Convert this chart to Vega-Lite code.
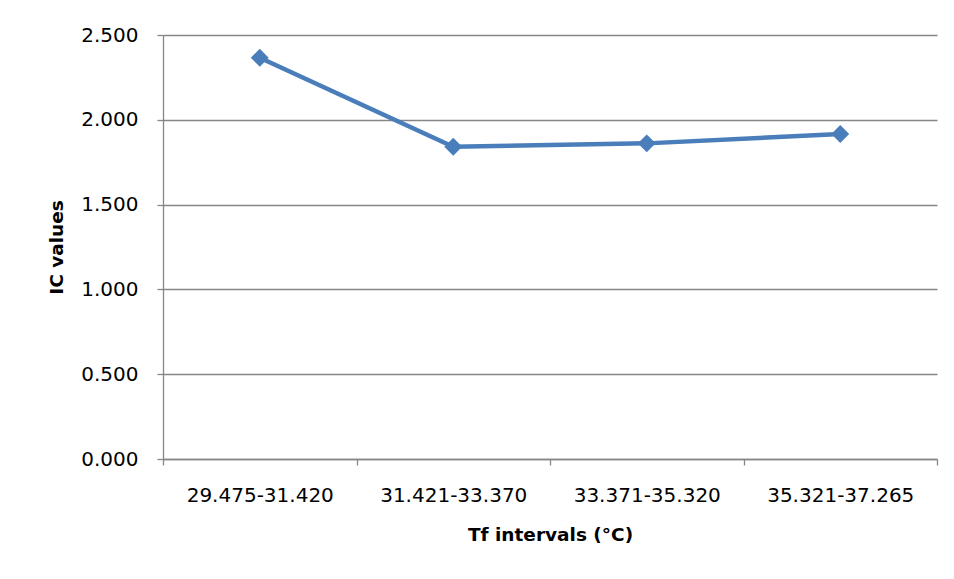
{
  "$schema": "https://vega.github.io/schema/vega-lite/v6.json",
  "width": 774,
  "height": 424,
  "autosize": {"type": "none"},
  "padding": {"left": 163, "top": 35, "right": 17, "bottom": 120},
  "background": "white",
  "config": {
    "view": {"stroke": null},
    "font": "DejaVu Sans",
    "axis": {
      "labelFont": "DejaVu Sans",
      "titleFont": "DejaVu Sans",
      "labelColor": "#000000",
      "titleColor": "#000000",
      "domainColor": "#868686",
      "tickColor": "#868686",
      "gridColor": "#868686",
      "domainWidth": 1.3,
      "tickWidth": 1.3,
      "gridWidth": 1.3,
      "labelFontSize": 20,
      "titleFontSize": 18.5,
      "titleFontWeight": "bold"
    }
  },
  "data": {
    "values": [
      {"interval": "29.475-31.420", "ic": 2.366},
      {"interval": "31.421-33.370", "ic": 1.841},
      {"interval": "33.371-35.320", "ic": 1.861},
      {"interval": "35.321-37.265", "ic": 1.916}
    ]
  },
  "encoding": {
    "x": {
      "field": "interval",
      "type": "nominal",
      "sort": null,
      "scale": {"type": "band", "paddingInner": 0, "paddingOuter": 0},
      "axis": {
        "title": "Tf intervals (°C)",
        "labelAngle": 0,
        "tickBand": "extent",
        "tickSize": 6,
        "labelPadding": 20,
        "titlePadding": 20,
        "grid": false
      }
    },
    "y": {
      "field": "ic",
      "type": "quantitative",
      "scale": {"domain": [0, 2.5], "nice": false},
      "axis": {
        "title": "IC values",
        "values": [0, 0.5, 1, 1.5, 2, 2.5],
        "format": ".3f",
        "tickSize": 6,
        "labelPadding": 19,
        "titlePadding": 14,
        "grid": true
      }
    }
  },
  "layer": [
    {"mark": {"type": "line", "color": "#4A7EBB", "strokeWidth": 4.5}},
    {"mark": {"type": "point", "shape": "diamond", "filled": true, "size": 320, "color": "#4A7EBB", "opacity": 1}}
  ]
}
